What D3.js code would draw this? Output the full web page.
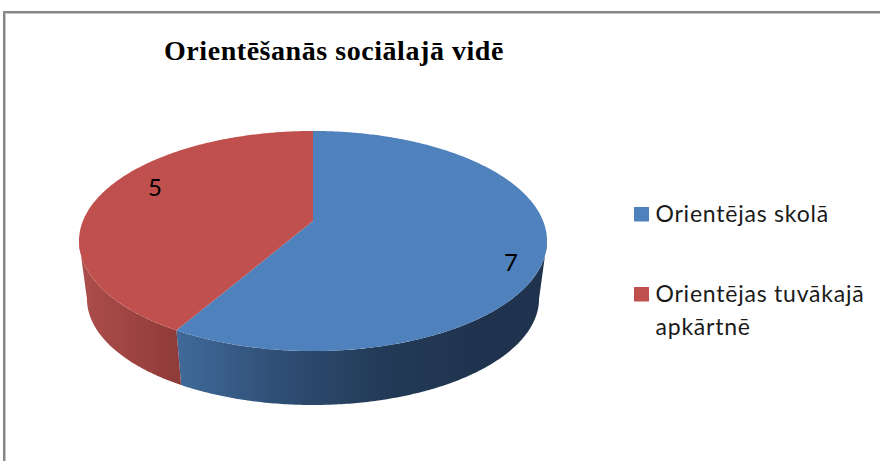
<!DOCTYPE html>
<html>
<head>
<meta charset="utf-8">
<script src="https://cdn.jsdelivr.net/npm/d3@7"></script>
<style>
  html, body { margin: 0; padding: 0; background: #fff; }
  svg { display: block; }
</style>
</head>
<body>
<svg width="880" height="461"></svg>
<script>
const categories = ['Orientējas skolā', 'Orientējas tuvākajā apkārtnē'];
const values = [7, 5];
const chartTitle = 'Orientēšanās sociālajā vidē';
const topColors = ['#4f81bd', '#c0504d'];
// wall shading, left to right
const wallStops = [['#406a9a', '#2f4e75', '#233b58', '#1f334e'], ['#ab4d4a', '#8f3b39']];

const svg = d3.select('svg');

// frame, only top and left are in the crop
svg.append('path')
  .attr('d', 'M5.5 461V13.5H880')
  .attr('fill', 'none')
  .attr('stroke', '#c4c4c4')
  .attr('stroke-width', 1);
svg.append('path')
  .attr('d', 'M4 461V12H880')
  .attr('fill', 'none')
  .attr('stroke', '#868686')
  .attr('stroke-width', 2);

svg.append('text')
  .attr('x', 334).attr('y', 60)
  .attr('text-anchor', 'middle')
  .attr('font-family', '"Liberation Serif", serif')
  .attr('font-weight', 'bold')
  .attr('font-size', 28)
  .attr('letter-spacing', 0.55)
  .attr('fill', '#000')
  .text(chartTitle);

// perspective disc: pie centre lands on (apexX, apexY), nearer edge looks bigger
const apexX = 313, apexY = 221;
const A = 230.1, B = 106.4, p = 0.1818;
const wallScale = 0.966, wallDrop = 58.4;
// angle where the disc is widest, walls are only visible between these two
const wallFrom = Math.acos(-p), wallTo = 2 * Math.PI - wallFrom;

function project(angle, s, dy) {
  const u = Math.sin(angle), v = -Math.cos(angle), w = 1 - p * v;
  return [apexX + s * A * u / w, apexY + dy + s * B * v / w];
}
function arcPoints(a0, a1, s, dy) {
  const n = Math.max(2, Math.ceil((a1 - a0) / 0.01));
  return d3.range(n + 1).map(i => project(a0 + (a1 - a0) * i / n, s, dy));
}

const arcs = d3.pie().sort(null)(values);
const line = d3.line();

const defs = svg.append('defs');
const wallRange = [[178, 480], [85, 180]];
arcs.forEach((d, i) => {
  const grad = defs.append('linearGradient')
    .attr('id', 'wall' + i)
    .attr('gradientUnits', 'userSpaceOnUse')
    .attr('x1', wallRange[i][0]).attr('x2', wallRange[i][1])
    .attr('y1', 0).attr('y2', 0);
  wallStops[i].forEach((c, j) => {
    grad.append('stop').attr('offset', j / (wallStops[i].length - 1)).attr('stop-color', c);
  });
});

const pie = svg.append('g');

function wallPath(d) {
  const a0 = Math.max(d.startAngle, wallFrom), a1 = Math.min(d.endAngle, wallTo);
  if (a1 <= a0) return null;
  return line(arcPoints(a0, a1, 1, 0).concat(arcPoints(a0, a1, wallScale, wallDrop).reverse())) + 'Z';
}

// walls first, the top face covers what is behind it
pie.selectAll('path.wall')
  .data(arcs)
  .join('path')
  .attr('class', 'wall')
  .attr('fill', (d, i) => `url(#wall${i})`)
  .attr('d', wallPath);

pie.selectAll('path.face')
  .data(arcs)
  .join('path')
  .attr('class', 'face')
  .attr('fill', (d, i) => topColors[i])
  .attr('d', d => line([[apexX, apexY]].concat(arcPoints(d.startAngle, d.endAngle, 1, 0))) + 'Z');

const labelFont = 'Lato, "Open Sans", sans-serif';

// value labels
const labelPos = [[511, 271], [155, 196]];
svg.selectAll('text.val')
  .data(values)
  .join('text')
  .attr('class', 'val')
  .attr('x', (d, i) => labelPos[i][0])
  .attr('y', (d, i) => labelPos[i][1])
  .attr('text-anchor', 'middle')
  .attr('font-family', labelFont)
  .attr('font-size', 24)
  .attr('fill', '#000')
  .text(d => d);

// legend
const legendRows = [[categories[0]], ['Orientējas tuvākajā', 'apkārtnē']];
const legendY = [222, 302];
const legend = svg.selectAll('g.legend')
  .data(categories)
  .join('g')
  .attr('class', 'legend');
legend.append('rect')
  .attr('x', 634)
  .attr('y', (d, i) => legendY[i] - 15)
  .attr('width', 15).attr('height', 14.5)
  .attr('fill', (d, i) => topColors[i]);
legend.each(function(d, i) {
  d3.select(this).selectAll('text')
    .data(legendRows[i])
    .join('text')
    .attr('x', 655.5)
    .attr('y', (t, j) => legendY[i] + j * 33)
    .attr('font-family', labelFont)
    .attr('font-size', 23)
    .attr('letter-spacing', 0.78)
    .attr('fill', '#1a1a1a')
    .text(t => t);
});
</script>
</body>
</html>
